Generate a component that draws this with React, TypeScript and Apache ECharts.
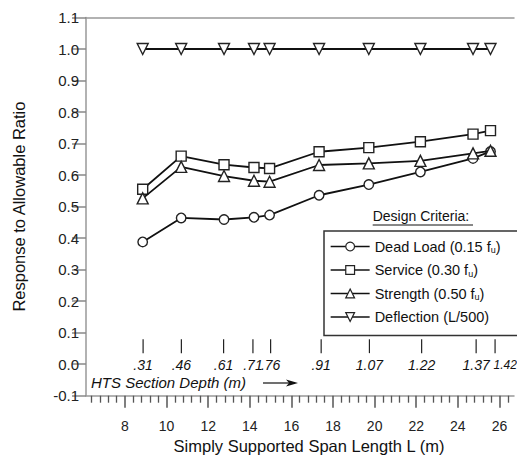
import React, { useEffect, useRef } from "react";
import * as echarts from "echarts";

// Span length L (m) of each design point
const spans = [8.85, 10.7, 12.76, 14.2, 14.95, 17.33, 19.72, 22.2, 24.73, 25.57];
const deadLoad = [0.388, 0.464, 0.459, 0.466, 0.473, 0.536, 0.57, 0.61, 0.653, 0.675];
const service = [0.555, 0.66, 0.633, 0.624, 0.621, 0.674, 0.687, 0.706, 0.73, 0.741];
const strength = [0.526, 0.626, 0.597, 0.582, 0.579, 0.632, 0.637, 0.645, 0.669, 0.677];
const deflection = [1.0, 1.0, 1.0, 1.0, 1.0, 1.0, 1.0, 1.0, 1.0, 1.0];

// HTS section depth marks
const depthSpans = [8.87, 10.71, 12.74, 14.15, 15.0, 17.43, 19.75, 22.26, 24.88, 25.79];
const depthLabels = [".31", ".46", ".61", ".71", ".76", ".91", "1.07", "1.22", "1.37", "1.42"];

// Axis ticks
const xMajorTicks = [8, 10, 12, 14, 16, 18, 20, 22, 24, 26];
const xMinorTicks: number[] = [];
for (let i = 16; i <= 66; i++) {
  const v = Math.round(i * 0.4 * 10) / 10;
  if (Math.abs(v / 2 - Math.round(v / 2)) > 1e-6) xMinorTicks.push(v);
}

const seriesNames = [
  "Dead Load (0.15 f_u)",
  "Service (0.30 f_u)",
  "Strength (0.50 f_u)",
  "Deflection (L/500)",
];

const FONT = '"Liberation Sans", Arial, sans-serif';

export default function App() {
  const ref = useRef<HTMLDivElement>(null);
  useEffect(() => {
    if (!ref.current) return;
    const chart = echarts.init(ref.current, undefined, { renderer: "svg" });
    const lineStyle = { color: "#111", width: 1.8 };
    const itemStyle = { color: "#fff", borderColor: "#222", borderWidth: 1.4 };
    const mk = (vals: number[]) => spans.map((x, i) => [x, vals[i]]);
    const option: any = {
      animation: false,
      backgroundColor: "#fff",
      textStyle: { fontFamily: FONT },
      grid: { left: 86, right: 3, top: 17.5, bottom: 59.3, containLabel: false, outerBoundsMode: "none" },
      xAxis: [
        {
          type: "value",
          min: 6.125,
          max: 26.7,
          position: "bottom",
          axisLine: { show: true, onZero: false, lineStyle: { color: "#999", width: 1.5 } },
          axisTick: {
            show: true,
            customValues: xMajorTicks,
            length: 12,
            lineStyle: { color: "#555", width: 1.5 },
          },
          axisLabel: {
            customValues: xMajorTicks,
            margin: 23,
            fontSize: 14,
            color: "#222",
            fontFamily: FONT,
          },
          splitLine: { show: false },
          name: "Simply Supported Span Length L (m)",
          nameLocation: "middle",
          nameGap: 41,
          nameTextStyle: { fontSize: 16.5, color: "#111", fontFamily: FONT, padding: [0, 0, 0, 18] },
        },
        {
          type: "value",
          min: 6.125,
          max: 26.7,
          position: "bottom",
          axisLine: { show: false, onZero: false },
          axisTick: {
            show: true,
            customValues: xMinorTicks,
            length: 7,
            lineStyle: { color: "#555", width: 1.3 },
          },
          axisLabel: { show: false },
          splitLine: { show: false },
        },
        {
          type: "value",
          min: 6.125,
          max: 26.7,
          position: "top",
          axisLine: { show: true, onZero: false, lineStyle: { color: "#999", width: 1.5 } },
          axisTick: { show: false },
          axisLabel: { show: false },
          splitLine: { show: false },
        },
      ],
      yAxis: {
        type: "value",
        min: -0.1,
        max: 1.1,
        interval: 0.1,
        axisLine: { show: true, onZero: false, lineStyle: { color: "#999", width: 1.5 } },
        axisTick: { show: true, length: 14, lineStyle: { color: "#888", width: 1.5 } },
        axisLabel: {
          margin: 7,
          fontSize: 15,
          color: "#222",
          fontFamily: FONT,
          formatter: (v: number) => v.toFixed(1),
        },
        splitLine: { show: false },
        name: "Response to Allowable Ratio",
        nameLocation: "middle",
        nameGap: 59,
        nameTextStyle: { fontSize: 16.5, color: "#111", fontFamily: FONT },
      },
      legend: {
        data: seriesNames,
        orient: "vertical",
        left: 324,
        top: 231,
        itemWidth: 39,
        itemHeight: 11,
        itemGap: 8,
        padding: [8, 22, 11, 6],
        borderColor: "#333",
        borderWidth: 1.5,
        backgroundColor: "#fff",
        selectedMode: false,
        lineStyle: { width: 1.3 },
        itemStyle: { borderWidth: 1.2 },
        formatter: (name: string) => name.replace("f_u", "f{sub|u}"),
        textStyle: {
          fontSize: 14.5,
          color: "#111",
          fontFamily: FONT,
          rich: {
            sub: { fontSize: 9, padding: [7, 0, 0, 0], fontFamily: FONT, color: "#111" },
          },
        },
      },
      graphic: [
        {
          type: "text",
          left: 372.7,
          top: 209,
          style: { text: "Design Criteria:", fontSize: 14, fontFamily: FONT, fill: "#111" },
        },
        {
          type: "line",
          shape: { x1: 372.7, y1: 225, x2: 473, y2: 225 },
          style: { stroke: "#111", lineWidth: 1 },
        },
        {
          type: "text",
          left: 91,
          top: 375,
          style: {
            text: "HTS Section Depth (m)",
            fontSize: 15,
            fontStyle: "italic",
            fontFamily: FONT,
            fill: "#111",
          },
        },
        {
          type: "line",
          shape: { x1: 263, y1: 383, x2: 295, y2: 383 },
          style: { stroke: "#111", lineWidth: 1.2 },
        },
        {
          type: "polygon",
          shape: { points: [[298, 383], [286, 379.5], [289, 383], [286, 386.5]] },
          style: { fill: "#111" },
        },
      ],
      series: [
        {
          name: seriesNames[0],
          type: "line",
          data: mk(deadLoad),
          symbol: "circle",
          symbolSize: 9.5,
          lineStyle,
          itemStyle,
          z: 3,
        },
        {
          name: seriesNames[1],
          type: "line",
          data: mk(service),
          symbol: "rect",
          symbolSize: 10,
          lineStyle,
          itemStyle,
          z: 3,
        },
        {
          name: seriesNames[2],
          type: "line",
          data: mk(strength),
          symbol: "triangle",
          symbolSize: 11,
          lineStyle,
          itemStyle,
          z: 4,
        },
        {
          name: seriesNames[3],
          type: "line",
          data: mk(deflection),
          symbol: "triangle",
          symbolRotate: 180,
          symbolSize: 11,
          lineStyle,
          itemStyle,
          z: 3,
        },
        {
          type: "custom",
          name: "depth",
          data: depthSpans.map((x) => [x, 0]),
          silent: true,
          renderItem: (params: any, api: any) => {
            const x = api.value(0);
            const p1 = api.coord([x, 0.079]);
            const p2 = api.coord([x, 0.035]);
            const pt = api.coord([x, 0.0]);
            const last = params.dataIndex === depthLabels.length - 1;
            return {
              type: "group",
              children: [
                {
                  type: "line",
                  shape: { x1: p1[0], y1: p1[1], x2: p2[0], y2: p2[1] },
                  style: { stroke: "#222", lineWidth: 1.2 },
                },
                {
                  type: "text",
                  x: last ? pt[0] - 1.5 : pt[0],
                  y: pt[1] + 1,
                  style: {
                    text: depthLabels[params.dataIndex],
                    fontSize: last ? 12 : 14,
                    fontStyle: "italic",
                    fontFamily: FONT,
                    fill: "#111",
                    align: last ? "left" : "center",
                    verticalAlign: "middle",
                  },
                },
              ],
            };
          },
        },
      ],
    };
    chart.setOption(option);
    return () => chart.dispose();
  }, []);
  return (
    <div
      ref={ref}
      style={{ position: "fixed", left: 0, top: 0, width: 517, height: 455, background: "#fff" }}
    />
  );
}
